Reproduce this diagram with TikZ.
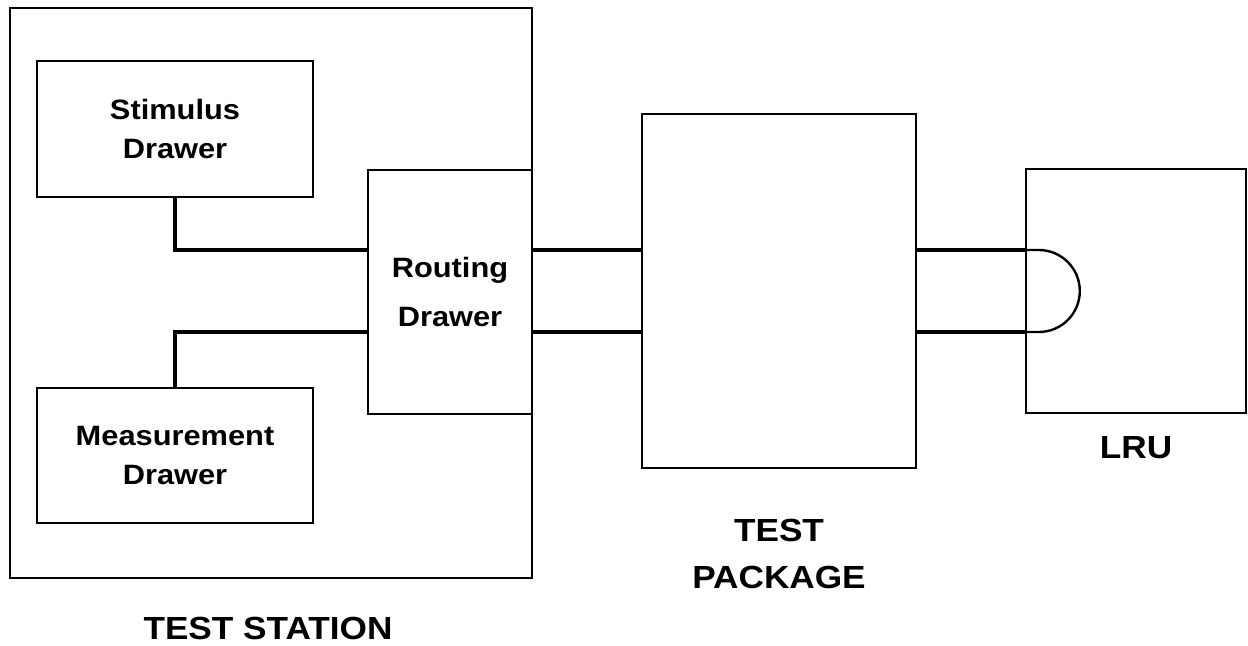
\documentclass[tikz,border=0pt]{standalone}
\usepackage{fontspec}
\setmainfont{Liberation Sans}[FakeStretch=1.1]
\begin{document}
\begin{tikzpicture}[x=.5pt,y=-.5pt,
	box/.style={draw,line width=1.2pt,inner sep=0pt,align=center,
		font=\fontsize{14}{19.5}\selectfont\bfseries},
	wire/.style={line width=2pt},
	title/.style={align=center,font=\fontsize{16}{23.5}\selectfont\bfseries}]
\useasboundingbox (0,0) rectangle (1248,645);
\coordinate (hi) at (0,250);
\coordinate (lo) at (0,332);
\node [box,minimum width=261pt,minimum height=285pt] (station) at (271,293) {};
\node [box,minimum width=138pt,minimum height=68pt] (stim) at (175,129) {Stimulus\\Drawer};
\node [box,minimum width=138pt,minimum height=67.5pt] (meas) at (175,455.5) {Measurement\\Drawer};
\node [box,minimum width=82pt,minimum height=122pt,
	font=\fontsize{14}{24.5}\selectfont\bfseries] (route) at (450,292) {Routing\\Drawer};
\node [box,minimum width=137pt,minimum height=177pt] (pkg) at (779,291) {};
\node [box,minimum width=110pt,minimum height=122pt] (lru) at (1136,291) {};
\draw [wire] (stim.south) |- (route.west |- hi);
\draw [wire] (meas.north) |- (route.west |- lo);
\draw [wire] (route.east |- hi) -- (pkg.west |- hi);
\draw [wire] (route.east |- lo) -- (pkg.west |- lo);
\draw [wire] (pkg.east |- hi) -- (lru.west |- hi);
\draw [wire] (pkg.east |- lo) -- (lru.west |- lo);
\draw [line width=1.2pt] (lru.west |- hi) -- ++(14,0)
	arc [start angle=-90,end angle=90,radius=41] -- (lru.west |- lo);
\path
	(268,628) node [title] (stationlbl) {TEST STATION}
	(779,554) node [title] (pkglbl) {TEST\\PACKAGE}
	(1136,448) node [title] (lrulbl) {LRU};
\end{tikzpicture}
\end{document}
